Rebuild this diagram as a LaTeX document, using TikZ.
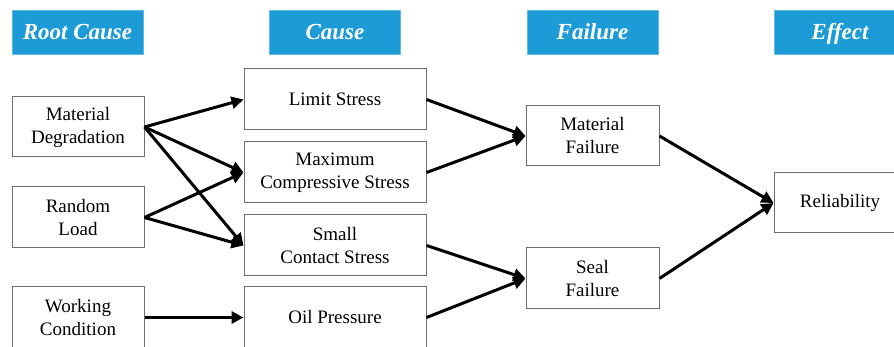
\documentclass[tikz,border=0pt]{standalone}
\usepackage{fontspec}
\setmainfont{LiberationSerif}[Extension=.ttf, UprightFont=*-Regular, BoldFont=*-Bold, ItalicFont=*-Italic, BoldItalicFont=*-BoldItalic]
\usetikzlibrary{arrows.meta}
\definecolor{hdrblue}{RGB}{28,155,214}
\definecolor{boxgray}{RGB}{110,110,110}
\begin{document}
\begin{tikzpicture}[x=1pt,y=1pt,
  hdr/.style={fill=hdrblue, draw=hdrblue!70!white, line width=0.6pt, minimum width=131pt, minimum height=44pt, inner sep=0pt,
    text height=20pt, text depth=4pt,
    text=white, font=\fontsize{23}{26}\selectfont\bfseries\itshape},
  box/.style={draw=boxgray, line width=1pt, fill=white, minimum height=61pt, inner sep=0pt, align=center,
    font=\fontsize{19}{23}\selectfont},
  rootbox/.style={box, minimum width=132pt},
  causebox/.style={box, minimum width=182pt},
  failbox/.style={box, minimum width=133pt},
  arr/.style={line width=3pt, -{Triangle[length=12pt,width=12pt]}}]
\useasboundingbox (0,0) rectangle (894,347);
\clip (0,0) rectangle (894,347);
% headers
\node[hdr] (hroot) at (77.5,315) {Root Cause};
\node[hdr] (hcause) at (335,315) {Cause};
\node[hdr] (hfail) at (592.5,315) {Failure};
\node[hdr] (heff) at (840,315) {Effect};
% root causes
\node[rootbox, minimum height=60pt] (md) at (78,220) {Material\\Degradation};
\node[rootbox] (rl) at (78,129.5) {Random\\Load};
\node[rootbox] (wc) at (78,29.5) {Working\\Condition};
% causes
\node[causebox] (ls) at (335,247.5) {Limit Stress};
\node[causebox] (mc) at (335,174.5) {Maximum\\Compressive Stress};
\node[causebox] (sc) at (335,101.5) {Small\\Contact Stress};
\node[causebox] (op) at (335,29.5) {Oil Pressure};
% failures
\node[failbox, minimum height=60pt] (mf) at (592.5,211) {Material\\Failure};
\node[failbox] (sf) at (592.5,68.5) {Seal\\Failure};
% effect
\node[rootbox, minimum height=60pt] (rel) at (840,144) {Reliability};
% connectors
\draw[arr] (md.east) -- (ls.west);
\draw[arr] (md.east) -- (mc.west);
\draw[arr] (md.east) -- (sc.west);
\draw[arr] (rl.east) -- (mc.west);
\draw[arr] (rl.east) -- (sc.west);
\draw[arr] (wc.east) -- (op.west);
\draw[arr] (ls.east) -- (mf.west);
\draw[arr] (mc.east) -- (mf.west);
\draw[arr] (sc.east) -- (sf.west);
\draw[arr] (op.east) -- (sf.west);
\draw[arr] (mf.east) -- (rel.west);
\draw[arr] (sf.east) -- (rel.west);
\end{tikzpicture}
\end{document}
